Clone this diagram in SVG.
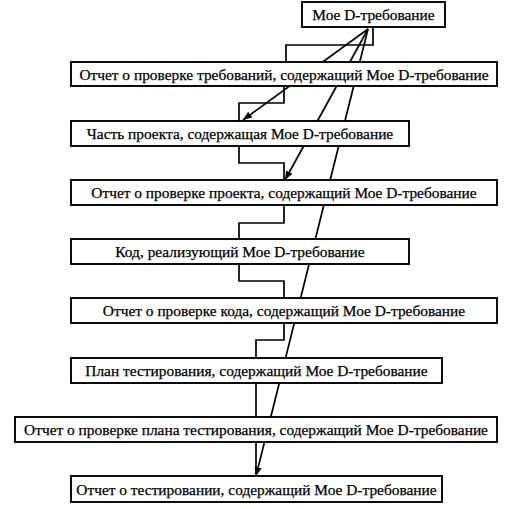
<svg xmlns="http://www.w3.org/2000/svg" width="526" height="509" viewBox="0 0 526 509">
<defs>
<marker id="ah" viewBox="0 0 10 10" refX="10" refY="5" markerWidth="9" markerHeight="9" markerUnits="userSpaceOnUse" orient="auto">
<path d="M0,1 L10,5 L0,9 Z" fill="#000"/>
</marker>
<style>
.box{fill:#fff;stroke:#000;stroke-width:1.9}
.lbl{font-family:"Liberation Serif","Times New Roman",serif;font-size:15.4px;fill:#000;stroke:#000;stroke-width:0.25;text-anchor:middle}
.ln{fill:none;stroke:#000;stroke-width:1.7}
</style>
</defs>
<rect width="526" height="509" fill="#fff"/>
<g id="connectors">
<polyline class="ln" points="373,27 373,45 286,45 286,62"/>
<polyline class="ln" points="284,86 284,103 239,103 239,121"/>
<polyline class="ln" points="239,146 239,163 284,163 284,180"/>
<polyline class="ln" points="284,205 284,223 239,223 239,239"/>
<polyline class="ln" points="239,264 239,281 284,281 284,298"/>
<polyline class="ln" points="284,323 284,340 256,340 256,358"/>
<line class="ln" x1="256" y1="383" x2="256" y2="417"/>
<line class="ln" x1="256" y1="442" x2="256" y2="476"/>
<line class="ln" x1="368" y1="29" x2="243" y2="120" marker-end="url(#ah)"/>
<line class="ln" x1="368" y1="29" x2="285" y2="180" marker-end="url(#ah)"/>
<line class="ln" x1="368" y1="29" x2="256" y2="476" marker-end="url(#ah)"/>
</g>
<g id="n0"><rect class="box" x="302" y="2" width="143" height="25"/><text class="lbl" x="373.5" y="20">Мое D-требование</text></g>
<g id="n1"><rect class="box" x="71" y="62" width="426" height="24"/><text class="lbl" x="284" y="79.5">Отчет о проверке требований, содержащий Мое D-требование</text></g>
<g id="n2"><rect class="box" x="71" y="121" width="338" height="25"/><text class="lbl" x="240" y="139">Часть проекта, содержащая Мое D-требование</text></g>
<g id="n3"><rect class="box" x="71" y="180" width="426" height="25"/><text class="lbl" x="284" y="198">Отчет о проверке проекта, содержащий Мое D-требование</text></g>
<g id="n4"><rect class="box" x="71" y="239" width="338" height="25"/><text class="lbl" x="240" y="257">Код, реализующий Мое D-требование</text></g>
<g id="n5"><rect class="box" x="71" y="298" width="426" height="25"/><text class="lbl" x="284" y="316">Отчет о проверке кода, содержащий Мое D-требование</text></g>
<g id="n6"><rect class="box" x="71" y="358" width="371" height="25"/><text class="lbl" x="256.5" y="376">План тестирования, содержащий Мое D-требование</text></g>
<g id="n7"><rect class="box" x="15" y="417" width="482" height="25"/><text class="lbl" x="256" y="435">Отчет о проверке плана тестирования, содержащий Мое D-требование</text></g>
<g id="n8"><rect class="box" x="71" y="476" width="371" height="26"/><text class="lbl" x="256.5" y="494.5">Отчет о тестировании, содержащий Мое D-требование</text></g>
</svg>
